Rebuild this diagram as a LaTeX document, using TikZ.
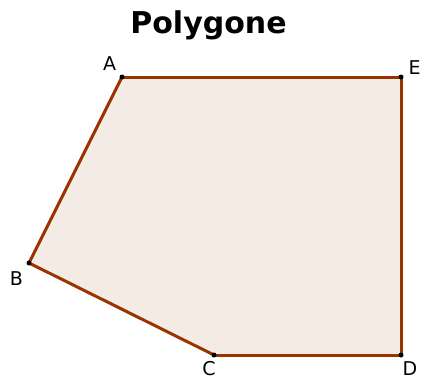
\documentclass[tikz,border=0pt]{standalone}
\usepackage{fontspec}
\setmainfont{DejaVu Sans}
\definecolor{PolyBrown}{HTML}{993300}
\usetikzlibrary{positioning}
\tikzset{
    % Vertex dot
    vertex/.style={
        circle,
        fill=black,
        inner sep=0pt,
        minimum size=5pt
    },
    % Vertex label
    vlabel/.style={
        inner sep=0pt,
        font=\fontsize{19}{21}\selectfont
    },
    % Polygon edge
    edge/.style={
        draw=PolyBrown,
        line width=3pt,
        line join=round
    }
}
\begin{document}
\begin{tikzpicture}[x=1pt, y=-1pt]
    \useasboundingbox (0,0) rectangle (421,380);

    % Title
    \node (title) [anchor=base, font=\fontsize{30}{32}\selectfont\bfseries] at (208.5,33) {Polygone};

    % Vertices
    \coordinate (A) at (122,77);
    \coordinate (E) at (401,77);
    \coordinate (D) at (401,355);
    \coordinate (C) at (214,355);
    \coordinate (B) at (29,263);

    \fill [PolyBrown!10] (A) -- (E) -- (D) -- (C) -- (B) -- cycle;
    \draw [edge] (A) -- (E);
    \draw [edge] (E) -- (D);
    \draw [edge] (D) -- (C);
    \draw [edge] (C) -- (B);
    \draw [edge] (B) -- (A);

    \node (pA) [vertex] at (A) {};
    \node (pE) [vertex] at (E) {};
    \node (pD) [vertex] at (D) {};
    \node (pC) [vertex] at (C) {};
    \node (pB) [vertex] at (B) {};

    % Labels
    \node (lA) [vlabel] at (109.5,64) {A};
    \node (lE) [vlabel] at (414.5,68) {E};
    \node (lB) [vlabel] at (16.5,278.5) {B};
    \node (lC) [vlabel, anchor=north] at (209,361) {C};
    \node (lD) [vlabel, anchor=north] at (410,361) {D};
\end{tikzpicture}
\end{document}
